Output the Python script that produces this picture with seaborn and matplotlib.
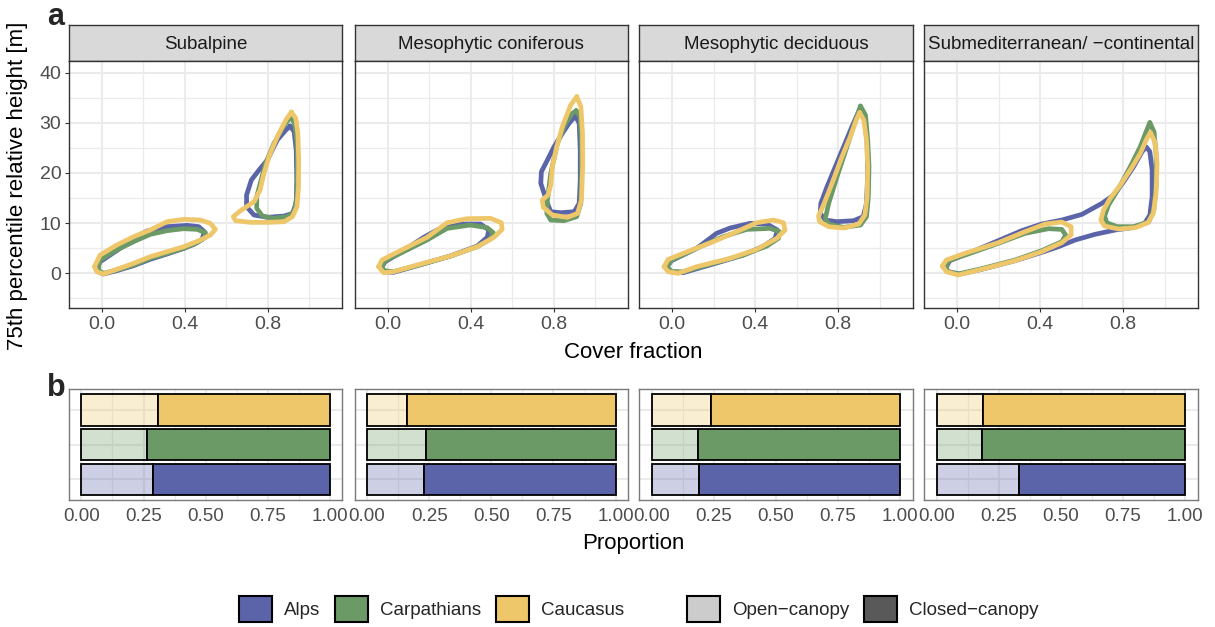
import numpy as np
import pandas as pd
import matplotlib
matplotlib.use("Agg")
import matplotlib.pyplot as plt
import seaborn as sns
from matplotlib.patches import Patch

# ---------------- data ----------------
facets = ["Subalpine", "Mesophytic coniferous", "Mesophytic deciduous",
          "Submediterranean/ \u2212continental"]
regions = ["Alps", "Carpathians", "Caucasus"]
canopy_labels = ["Open\u2212canopy", "Closed\u2212canopy"]
region_colors = ["#5B64A8", "#6B9A66", "#EFC76B"]
canopy_colors = ["#595959", "#595959"]

# proportion of open-canopy plots per forest type (rest is closed-canopy)
open_alps = [0.289, 0.227, 0.189, 0.330]
open_carp = [0.264, 0.237, 0.185, 0.183]
open_cauc = [0.309, 0.160, 0.237, 0.186]

x_ticks_a = [0.0, 0.4, 0.8]
y_ticks_a = [0, 10, 20, 30, 40]
x_ticks_b = [0.0, 0.25, 0.50, 0.75, 1.00]

# density-contour outlines (cover fraction, 75th percentile height)
sub_alps_open = [(-0.024, 1.0), (-0.008, 2.32), (0.072, 4.52), (0.153, 6.97), (0.217, 8.43), (0.314, 9.30),
                 (0.411, 9.56), (0.467, 9.30), (0.494, 8.30), (0.483, 6.77), (0.443, 5.78), (0.395, 4.98),
                 (0.314, 3.85), (0.233, 2.79), (0.153, 1.53), (0.072, 0.53), (0.008, -0.13), (-0.019, 0.33)]
sub_carp_open = [(-0.016, 1.33), (-0.008, 2.66), (0.072, 4.65), (0.153, 6.31), (0.233, 7.77), (0.314, 8.50),
                 (0.395, 8.90), (0.459, 8.76), (0.499, 8.10), (0.499, 7.17), (0.459, 6.11), (0.395, 4.98),
                 (0.314, 3.98), (0.233, 2.99), (0.153, 1.66), (0.072, 0.66), (0.008, 0.0), (-0.014, 0.53)]
sub_cauc_open = [(-0.035, 1.33), (-0.024, 2.32), (-0.008, 3.65), (0.072, 5.64), (0.153, 7.30), (0.233, 8.63),
                 (0.314, 10.29), (0.395, 10.76), (0.475, 10.62), (0.523, 9.96), (0.547, 8.76), (0.523, 7.64),
                 (0.475, 6.64), (0.395, 5.31), (0.314, 4.32), (0.233, 3.32), (0.153, 1.99), (0.072, 0.80),
                 (0.008, -0.13), (-0.024, 0.33)]
sub_alps_closed = [(0.907, 29.35), (0.926, 28.22), (0.936, 24.57), (0.939, 18.59), (0.936, 13.94), (0.918, 11.95),
                   (0.878, 11.42), (0.797, 11.16), (0.733, 11.62), (0.697, 13.28), (0.697, 15.60), (0.720, 18.59),
                   (0.757, 20.58), (0.797, 22.58), (0.845, 26.56), (0.886, 28.55)]
sub_carp_closed = [(0.910, 31.21), (0.929, 29.75), (0.939, 26.56), (0.942, 21.25), (0.939, 15.27), (0.926, 12.28),
                   (0.894, 11.29), (0.829, 10.96), (0.773, 11.42), (0.746, 12.95), (0.746, 15.27), (0.765, 18.26),
                   (0.789, 21.91), (0.829, 25.90), (0.874, 29.22)]
sub_cauc_closed = [(0.913, 32.14), (0.934, 30.88), (0.944, 27.89), (0.948, 22.58), (0.947, 17.26), (0.940, 13.28),
                   (0.918, 11.29), (0.878, 10.29), (0.797, 10.16), (0.717, 10.16), (0.644, 10.49), (0.633, 11.29),
                   (0.668, 12.48), (0.733, 14.28), (0.762, 16.60), (0.781, 19.92), (0.805, 23.24), (0.845, 27.22),
                   (0.886, 30.54)]

con_alps_open = [(-0.032, 1.0), (-0.011, 2.32), (0.061, 4.12), (0.174, 7.17), (0.238, 8.63), (0.351, 9.83),
                 (0.448, 9.83), (0.488, 8.63), (0.480, 7.17), (0.432, 5.44), (0.303, 3.45), (0.142, 1.53),
                 (0.029, 0.20), (-0.019, 0.33)]
con_carp_open = [(-0.027, 1.33), (-0.011, 2.52), (0.061, 3.98), (0.190, 6.64), (0.287, 8.96), (0.399, 9.63),
                 (0.480, 9.10), (0.509, 8.10), (0.493, 6.77), (0.432, 5.31), (0.303, 3.45), (0.142, 1.53),
                 (0.029, 0.33), (-0.016, 0.53)]
con_cauc_open = [(-0.043, 1.33), (-0.027, 2.66), (0.061, 4.52), (0.190, 7.17), (0.287, 10.09), (0.383, 10.89),
                 (0.496, 10.96), (0.548, 10.09), (0.552, 8.76), (0.512, 7.17), (0.432, 5.31), (0.303, 3.45),
                 (0.142, 1.66), (0.029, 0.33), (-0.019, 0.13)]
con_alps_closed = [(0.905, 31.34), (0.923, 29.88), (0.928, 24.57), (0.928, 18.59), (0.923, 13.94), (0.899, 12.28),
                   (0.834, 12.08), (0.786, 12.28), (0.770, 13.94), (0.754, 15.94), (0.738, 17.93), (0.741, 20.25),
                   (0.770, 22.58), (0.802, 25.23), (0.842, 27.89), (0.874, 29.88)]
con_carp_closed = [(0.908, 32.40), (0.927, 31.21), (0.934, 26.56), (0.934, 19.92), (0.931, 13.94), (0.911, 11.29),
                   (0.850, 10.49), (0.786, 10.62), (0.767, 11.95), (0.770, 14.61), (0.786, 19.92), (0.818, 25.90),
                   (0.858, 29.88), (0.890, 31.87)]
con_cauc_closed = [(0.911, 35.19), (0.931, 33.20), (0.939, 27.89), (0.940, 21.25), (0.934, 14.61), (0.915, 11.95),
                   (0.866, 11.16), (0.794, 11.62), (0.750, 13.15), (0.745, 14.61), (0.773, 15.60), (0.786, 17.60),
                   (0.794, 21.25), (0.815, 25.23), (0.842, 29.22), (0.882, 33.53)]

dec_alps_open = [(-0.027, 1.20), (-0.003, 2.52), (0.118, 4.98), (0.214, 7.97), (0.279, 9.03), (0.375, 9.96),
                 (0.456, 9.83), (0.507, 8.63), (0.496, 6.97), (0.440, 5.44), (0.343, 3.65), (0.198, 1.86),
                 (0.053, 0.13), (-0.008, 0.33)]
dec_carp_open = [(-0.024, 1.33), (-0.003, 2.66), (0.118, 4.98), (0.246, 7.30), (0.359, 8.76), (0.472, 8.96),
                 (0.517, 8.30), (0.512, 6.97), (0.456, 5.44), (0.343, 3.65), (0.198, 1.99), (0.053, 0.33),
                 (-0.003, 0.33)]
dec_cauc_open = [(-0.039, 1.33), (-0.019, 2.79), (0.053, 3.98), (0.198, 6.31), (0.311, 8.30), (0.407, 10.09),
                 (0.488, 10.62), (0.536, 10.09), (0.544, 8.63), (0.504, 6.97), (0.407, 4.78), (0.279, 2.99),
                 (0.118, 1.33), (0.029, 0.0), (-0.019, 0.33)]
dec_alps_closed = [(0.903, 32.67), (0.926, 30.88), (0.939, 25.90), (0.942, 19.92), (0.936, 13.94), (0.920, 11.29),
                   (0.874, 10.49), (0.794, 10.29), (0.738, 10.62), (0.713, 11.95), (0.716, 13.94), (0.746, 17.26),
                   (0.786, 21.25), (0.826, 25.23), (0.866, 29.22)]
dec_carp_closed = [(0.907, 33.33), (0.931, 31.54), (0.942, 26.56), (0.948, 21.25), (0.945, 15.27), (0.936, 11.29),
                   (0.907, 9.63), (0.826, 9.16), (0.754, 9.83), (0.738, 10.96), (0.754, 13.94), (0.794, 19.26),
                   (0.842, 25.23), (0.878, 29.88)]
dec_cauc_closed = [(0.903, 32.01), (0.923, 30.54), (0.936, 26.56), (0.942, 21.25), (0.939, 15.27), (0.928, 11.62),
                   (0.899, 9.83), (0.826, 9.03), (0.754, 9.30), (0.710, 10.29), (0.705, 11.42), (0.729, 13.61),
                   (0.770, 17.93), (0.818, 23.24), (0.858, 27.22), (0.887, 30.54)]

med_alps_all = [(-0.056, 1.0), (-0.035, 2.52), (0.053, 3.98), (0.198, 6.51), (0.311, 8.50), (0.407, 9.83),
                (0.504, 10.62), (0.601, 11.75), (0.697, 13.94), (0.754, 15.60), (0.802, 18.26), (0.850, 21.25),
                (0.891, 24.24), (0.910, 25.23), (0.928, 24.24), (0.939, 20.58), (0.939, 15.27), (0.928, 11.62),
                (0.903, 9.96), (0.842, 9.10), (0.761, 8.63), (0.664, 7.77), (0.568, 6.64), (0.488, 5.31),
                (0.407, 4.18), (0.279, 2.52), (0.118, 0.80), (0.013, -0.13), (-0.043, 0.33)]
med_carp_open = [(-0.056, 1.33), (-0.035, 2.66), (0.053, 3.85), (0.198, 5.98), (0.327, 7.97), (0.440, 8.90),
                 (0.504, 8.76), (0.523, 7.64), (0.504, 6.31), (0.407, 4.52), (0.279, 2.66), (0.118, 0.93),
                 (0.005, -0.13), (-0.043, 0.33)]
med_cauc_open = [(-0.071, 1.46), (-0.052, 2.66), (0.037, 3.98), (0.198, 6.11), (0.327, 8.30), (0.424, 9.83),
                 (0.504, 10.23), (0.549, 9.30), (0.549, 7.64), (0.504, 6.11), (0.407, 4.32), (0.279, 2.52),
                 (0.118, 0.80), (0.005, -0.33), (-0.052, 0.33)]
med_carp_closed = [(0.928, 30.01), (0.948, 28.22), (0.958, 23.90), (0.958, 17.26), (0.947, 12.62), (0.923, 10.29),
                   (0.850, 9.30), (0.770, 9.30), (0.721, 10.09), (0.710, 11.42), (0.729, 13.61), (0.778, 16.93),
                   (0.834, 21.25), (0.882, 25.23), (0.910, 28.22)]
med_cauc_closed = [(0.931, 28.02), (0.952, 26.23), (0.963, 21.91), (0.958, 15.94), (0.945, 11.95), (0.919, 10.09),
                   (0.858, 9.10), (0.778, 8.83), (0.710, 9.43), (0.692, 10.62), (0.705, 12.62), (0.737, 14.94),
                   (0.786, 17.60), (0.839, 20.92), (0.882, 23.90), (0.914, 26.89)]

loops = [
    (0, "Alps", sub_alps_open), (0, "Alps", sub_alps_closed),
    (0, "Carpathians", sub_carp_open), (0, "Carpathians", sub_carp_closed),
    (0, "Caucasus", sub_cauc_open), (0, "Caucasus", sub_cauc_closed),
    (1, "Alps", con_alps_open), (1, "Alps", con_alps_closed),
    (1, "Carpathians", con_carp_open), (1, "Carpathians", con_carp_closed),
    (1, "Caucasus", con_cauc_open), (1, "Caucasus", con_cauc_closed),
    (2, "Alps", dec_alps_open), (2, "Alps", dec_alps_closed),
    (2, "Carpathians", dec_carp_open), (2, "Carpathians", dec_carp_closed),
    (2, "Caucasus", dec_cauc_open), (2, "Caucasus", dec_cauc_closed),
    (3, "Alps", med_alps_all),
    (3, "Carpathians", med_carp_open), (3, "Carpathians", med_carp_closed),
    (3, "Caucasus", med_cauc_open), (3, "Caucasus", med_cauc_closed),
]

rows = []
for lid, (fi, reg, pts) in enumerate(loops):
    closed_pts = list(pts) + [pts[0]]
    for k, (cx, cy) in enumerate(closed_pts):
        rows.append(dict(facet=fi, region=reg, loop=lid, order=k, cover=cx, height=cy))
contours = pd.DataFrame(rows)

props = pd.DataFrame({
    "facet": np.repeat(np.arange(4), 3),
    "region": regions * 4,
    "open": [v for f in range(4) for v in (open_alps[f], open_carp[f], open_cauc[f])],
})

# ---------------- style ----------------
sns.set_style("white")
plt.rcParams["font.family"] = ["Liberation Sans", "DejaVu Sans"]
W, H = 1215, 627
fig = plt.figure(figsize=(W / 100, H / 100), dpi=100)


def fx(px):
    return px / W


def fy(py):
    return 1 - py / H


GRID = "#EBEBEB"
BORDER = "#333333"
TICKC = "#4D4D4D"
panel_left = [69, 354.7, 639.3, 924.3]
panel_w = 273.3

for i in range(4):
    L = panel_left[i]
    # strip
    axs = fig.add_axes([fx(L), fy(61), panel_w / W, 36 / H])
    axs.set_facecolor("#D9D9D9")
    axs.set_xticks([]); axs.set_yticks([])
    for sp in axs.spines.values():
        sp.set_color(BORDER); sp.set_linewidth(1.0)
    axs.text(0.5, 0.47, facets[i], ha="center", va="center", fontsize=13.5,
             color="#1A1A1A", transform=axs.transAxes)

    # panel a
    ax = fig.add_axes([fx(L), fy(308), panel_w / W, 247 / H])
    ax.set_facecolor("white")
    sub = contours[contours["facet"] == i]
    for reg, col in zip(regions, region_colors):
        d = sub[sub["region"] == reg]
        sns.lineplot(data=d, x="cover", y="height", units="loop", estimator=None,
                     sort=False, color=col, lw=3.4, ax=ax, legend=False,
                     solid_joinstyle="round", solid_capstyle="round")
    ax.set_xlim(-0.158, 1.158)
    ax.set_ylim(-6.9, 42.3)
    ax.set_xticks(x_ticks_a)
    ax.set_xticklabels([f"{t:.1f}" for t in x_ticks_a])
    ax.set_xticks([0.2, 0.6, 1.0], minor=True)
    ax.set_yticks(y_ticks_a)
    ax.set_yticks([-5, 5, 15, 25, 35], minor=True)
    ax.grid(which="major", color=GRID, lw=1.5)
    ax.grid(which="minor", color=GRID, lw=0.9)
    ax.set_axisbelow(True)
    ax.set_xlabel(""); ax.set_ylabel("")
    for sp in ax.spines.values():
        sp.set_color(BORDER); sp.set_linewidth(1.0)
    ax.tick_params(which="minor", length=0)
    ax.tick_params(which="major", length=3, width=0.8, color=BORDER, labelsize=14,
                   labelcolor=TICKC, pad=2.5, bottom=True, left=(i == 0), labelleft=(i == 0))

    # panel b
    axb = fig.add_axes([fx(L), fy(500), panel_w / W, 110.7 / H])
    axb.set_facecolor("white")
    pb = props[props["facet"] == i]
    for j, (reg, col) in enumerate(zip(regions, region_colors)):
        p = float(pb[pb["region"] == reg]["open"].iloc[0])
        rgb = matplotlib.colors.to_rgb(col)
        axb.barh(j + 1, p, left=0, height=0.9, facecolor=(*rgb, 0.3),
                 edgecolor="black", lw=1.3, zorder=3)
        axb.barh(j + 1, 1 - p, left=p, height=0.9, facecolor=col,
                 edgecolor="black", lw=1.3, zorder=3)
    axb.set_xlim(-0.05, 1.05)
    axb.set_ylim(0.4, 3.6)
    axb.set_xticks(x_ticks_b)
    axb.set_xticklabels([f"{t:.2f}" for t in x_ticks_b])
    axb.set_xticks([0.125, 0.375, 0.625, 0.875], minor=True)
    axb.set_yticks([1, 2, 3])
    axb.set_yticklabels([])
    axb.grid(which="major", color=GRID, lw=1.5)
    axb.grid(which="minor", axis="x", color=GRID, lw=0.9)
    axb.set_axisbelow(True)
    for sp in axb.spines.values():
        sp.set_color("#7A7A7A"); sp.set_linewidth(1.0)
    axb.tick_params(which="minor", length=0)
    axb.tick_params(axis="y", length=0)
    axb.tick_params(axis="x", which="major", length=3, width=0.8, color=BORDER,
                    labelsize=13.5, labelcolor=TICKC, pad=2.5)

# titles and panel letters
fig.text(fx(633), fy(352), "Cover fraction", ha="center", va="center", fontsize=16, color="black")
fig.text(fx(633), fy(544), "Proportion", ha="center", va="center", fontsize=16, color="black")
fig.text(fx(18), fy(186), "75th percentile relative height [m]", ha="center", va="center",
         rotation=90, fontsize=16, color="black")
fig.text(fx(47), fy(25), "a", ha="left", va="baseline", fontsize=22, fontweight="bold")
fig.text(fx(47), fy(396), "b", ha="left", va="baseline", fontsize=22, fontweight="bold")

# legends
reg_handles = [Patch(facecolor=c, edgecolor="black", lw=1.5, label=r) for r, c in zip(regions, region_colors)]
can_handles = [Patch(facecolor=(*matplotlib.colors.to_rgb(canopy_colors[0]), 0.3), edgecolor="black", lw=1.5,
                     label=canopy_labels[0]),
               Patch(facecolor=canopy_colors[1], edgecolor="black", lw=1.5, label=canopy_labels[1])]
common = dict(loc="center left", ncol=3, frameon=False, fontsize=13.5, handlelength=1.75,
              handleheight=1.75, handletextpad=0.65, columnspacing=0.8, borderpad=0, borderaxespad=0)
fig.legend(handles=reg_handles, bbox_to_anchor=(fx(239), fy(609)), **common)
fig.legend(handles=can_handles, bbox_to_anchor=(fx(687), fy(609)), **common)

fig.savefig("out.png", dpi=100)
